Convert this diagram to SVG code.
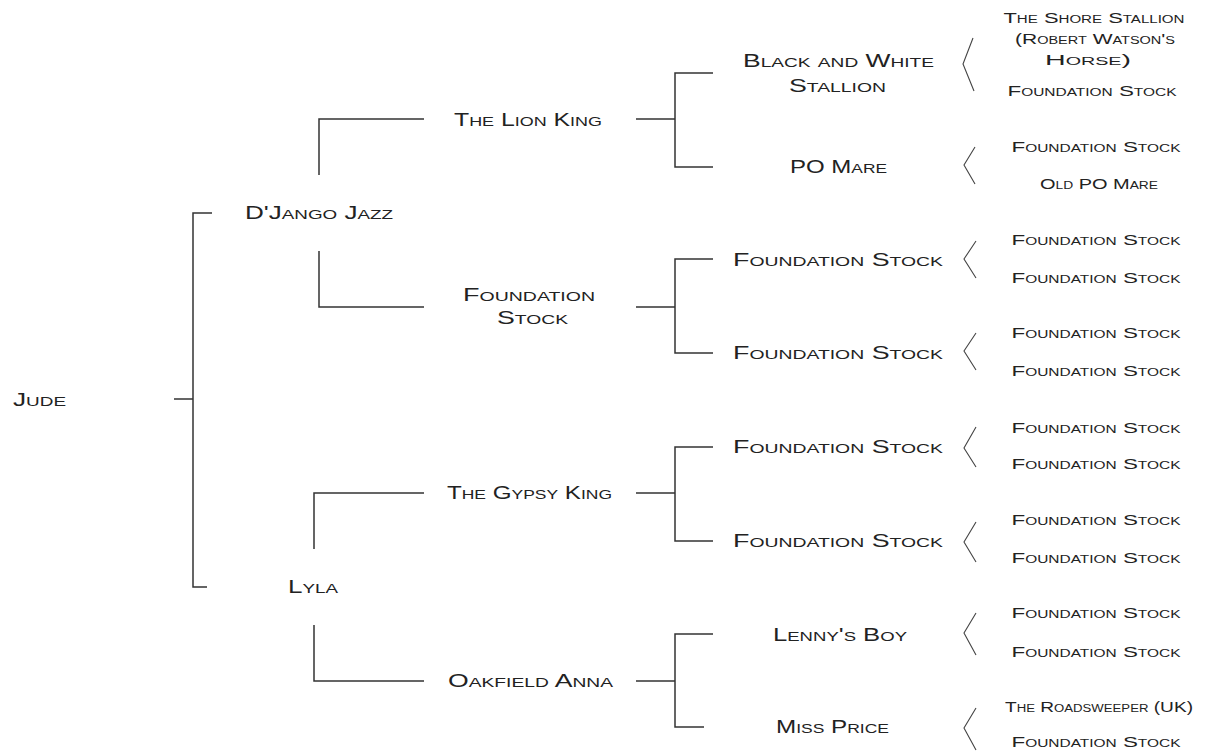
<svg xmlns="http://www.w3.org/2000/svg" width="1207" height="753" viewBox="0 0 1207 753">
<style>
text{font-family:"Liberation Sans",Arial,sans-serif;font-variant:small-caps;fill:#222;}
.g1{font-size:18px;}
.g4{font-size:14.5px;text-anchor:middle;}
#connectors path{fill:none;stroke:#333;stroke-width:1.5;}
#connectors polyline{fill:none;stroke:#444;stroke-width:1.1;}
</style>
<rect width="1207" height="753" fill="#fff"/>
<g id="connectors">
<path d="M174 399H193M212 213H193V587H207"/>
<path d="M424 119H319V175M424 307H319V251"/>
<path d="M424 493H314V549M424 681H314V625"/>
<path d="M636 119H675M713 73H675V167H713"/>
<path d="M636 307H675M713 259H675V353H713"/>
<path d="M636 493H675M713 447H675V541H713"/>
<path d="M636 681H675M713 634H675V727H704"/>
<polyline points="973,38 963,64 974,91"/>
<polyline points="975,147 964,165 975,184"/>
<polyline points="976,241 964,259 976,278"/>
<polyline points="976,333 964,351 976,370"/>
<polyline points="976,427 964,448 976,467"/>
<polyline points="976,522 964,542 976,562"/>
<polyline points="976,613 964,633 976,655"/>
<polyline points="976,708 964,728 976,750"/>
</g>
<g id="jude"><text class="g1" x="13" y="406" textLength="53" lengthAdjust="spacingAndGlyphs">Jude</text></g>
<g id="django-jazz"><text class="g1" x="245" y="219" textLength="148" lengthAdjust="spacingAndGlyphs">D'Jango Jazz</text></g>
<g id="lyla"><text class="g1" x="288" y="593" textLength="50" lengthAdjust="spacingAndGlyphs">Lyla</text></g>
<g id="the-lion-king"><text class="g1" x="454" y="126" textLength="148" lengthAdjust="spacingAndGlyphs">The Lion King</text></g>
<g id="foundation-stock-2"><text class="g1" x="463" y="301" textLength="132" lengthAdjust="spacingAndGlyphs">Foundation</text><text class="g1" x="497" y="324" textLength="71" lengthAdjust="spacingAndGlyphs">Stock</text></g>
<g id="the-gypsy-king"><text class="g1" x="447" y="499" textLength="165" lengthAdjust="spacingAndGlyphs">The Gypsy King</text></g>
<g id="oakfield-anna"><text class="g1" x="448" y="687" textLength="165" lengthAdjust="spacingAndGlyphs">Oakfield Anna</text></g>
<g id="black-and-white-stallion"><text class="g1" x="743" y="67" textLength="191" lengthAdjust="spacingAndGlyphs">Black and White</text><text class="g1" x="789" y="92" textLength="97" lengthAdjust="spacingAndGlyphs">Stallion</text></g>
<g id="po-mare"><text class="g1" x="790" y="173" textLength="97" lengthAdjust="spacingAndGlyphs">PO Mare</text></g>
<g id="foundation-stock-3a"><text class="g1" x="733" y="266" textLength="210" lengthAdjust="spacingAndGlyphs">Foundation Stock</text></g>
<g id="foundation-stock-3b"><text class="g1" x="733" y="359" textLength="210" lengthAdjust="spacingAndGlyphs">Foundation Stock</text></g>
<g id="foundation-stock-3c"><text class="g1" x="733" y="453" textLength="210" lengthAdjust="spacingAndGlyphs">Foundation Stock</text></g>
<g id="foundation-stock-3d"><text class="g1" x="733" y="547" textLength="210" lengthAdjust="spacingAndGlyphs">Foundation Stock</text></g>
<g id="lennys-boy"><text class="g1" x="773" y="641" textLength="134" lengthAdjust="spacingAndGlyphs">Lenny's Boy</text></g>
<g id="miss-price"><text class="g1" x="776" y="733" textLength="113" lengthAdjust="spacingAndGlyphs">Miss Price</text></g>
<g id="the-shore-stallion"><text class="g4" x="1094" y="23" textLength="181" lengthAdjust="spacingAndGlyphs">The Shore Stallion</text><text class="g4" x="1095" y="44" textLength="160" lengthAdjust="spacingAndGlyphs">(Robert Watson's</text><text class="g4" x="1088" y="65" textLength="86" lengthAdjust="spacingAndGlyphs">Horse)</text></g>
<g id="foundation-stock-4a"><text class="g4" x="1092" y="96" textLength="169" lengthAdjust="spacingAndGlyphs">Foundation Stock</text></g>
<g id="foundation-stock-4b"><text class="g4" x="1096" y="152" textLength="169" lengthAdjust="spacingAndGlyphs">Foundation Stock</text></g>
<g id="old-po-mare"><text class="g4" x="1099" y="189" textLength="118" lengthAdjust="spacingAndGlyphs">Old PO Mare</text></g>
<g id="foundation-stock-4c"><text class="g4" x="1096" y="245" textLength="169" lengthAdjust="spacingAndGlyphs">Foundation Stock</text></g>
<g id="foundation-stock-4d"><text class="g4" x="1096" y="283" textLength="169" lengthAdjust="spacingAndGlyphs">Foundation Stock</text></g>
<g id="foundation-stock-4e"><text class="g4" x="1096" y="338" textLength="169" lengthAdjust="spacingAndGlyphs">Foundation Stock</text></g>
<g id="foundation-stock-4f"><text class="g4" x="1096" y="376" textLength="169" lengthAdjust="spacingAndGlyphs">Foundation Stock</text></g>
<g id="foundation-stock-4g"><text class="g4" x="1096" y="433" textLength="169" lengthAdjust="spacingAndGlyphs">Foundation Stock</text></g>
<g id="foundation-stock-4h"><text class="g4" x="1096" y="469" textLength="169" lengthAdjust="spacingAndGlyphs">Foundation Stock</text></g>
<g id="foundation-stock-4i"><text class="g4" x="1096" y="525" textLength="169" lengthAdjust="spacingAndGlyphs">Foundation Stock</text></g>
<g id="foundation-stock-4j"><text class="g4" x="1096" y="563" textLength="169" lengthAdjust="spacingAndGlyphs">Foundation Stock</text></g>
<g id="foundation-stock-4k"><text class="g4" x="1096" y="618" textLength="169" lengthAdjust="spacingAndGlyphs">Foundation Stock</text></g>
<g id="foundation-stock-4l"><text class="g4" x="1096" y="657" textLength="169" lengthAdjust="spacingAndGlyphs">Foundation Stock</text></g>
<g id="the-roadsweeper"><text class="g4" x="1099" y="712" textLength="188" lengthAdjust="spacingAndGlyphs">The Roadsweeper (UK)</text></g>
<g id="foundation-stock-4m"><text class="g4" x="1096" y="747" textLength="169" lengthAdjust="spacingAndGlyphs">Foundation Stock</text></g>
</svg>
